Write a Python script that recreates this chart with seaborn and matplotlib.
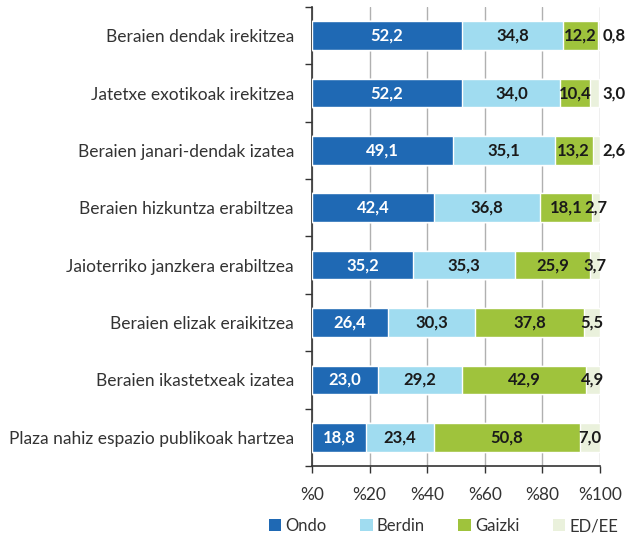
import numpy as np
import pandas as pd
import matplotlib
matplotlib.use("Agg")
import matplotlib.pyplot as plt
import seaborn as sns
from matplotlib.patches import Patch
from matplotlib.ticker import FixedLocator

categories = [
    "Beraien dendak irekitzea",
    "Jatetxe exotikoak irekitzea",
    "Beraien janari-dendak izatea",
    "Beraien hizkuntza erabiltzea",
    "Jaioterriko janzkera erabiltzea",
    "Beraien elizak eraikitzea",
    "Beraien ikastetxeak izatea",
    "Plaza nahiz espazio publikoak hartzea",
]
ondo = [52.2, 52.2, 49.1, 42.4, 35.2, 26.4, 23.0, 18.8]
berdin = [34.8, 34.0, 35.1, 36.8, 35.3, 30.3, 29.2, 23.4]
gaizki = [12.2, 10.4, 13.2, 18.1, 25.9, 37.8, 42.9, 50.8]
ed_ee = [0.8, 3.0, 2.6, 2.7, 3.7, 5.5, 4.9, 7.0]
series_names = ["Ondo", "Berdin", "Gaizki", "ED/EE"]
x_ticks = [0, 20, 40, 60, 80, 100]

colors = ["#1f69b4", "#a0dcf0", "#9fc33c", "#eaf1dc"]
text_colors = ["white", "#1a1a1a", "#1a1a1a", "#1a1a1a"]

sns.set_style("white")
plt.rcParams["font.family"] = ["Lato", "DejaVu Sans"]

df = pd.DataFrame({"cat": categories, "Ondo": ondo, "Berdin": berdin,
                   "Gaizki": gaizki, "ED/EE": ed_ee})
vals = df[series_names].to_numpy()
cum = np.cumsum(vals, axis=1)

fig = plt.figure(figsize=(6.29, 5.38), dpi=100)
ax = fig.add_axes([0.496, 0.134, 0.458, 0.853])

# draw stacked bars: largest cumulative first
for i in range(3, -1, -1):
    sns.barplot(x=cum[:, i], y=categories, orient="h", color=colors[i],
                width=0.5, saturation=1, ax=ax, zorder=3)

# labels
for r in range(len(categories)):
    for i in range(4):
        v = vals[r, i]
        start = cum[r, i] - v
        txt = f"{v:.1f}".replace(".", ",")
        if i == 3 and r < 3:
            ax.text(100.8, r, txt, ha="left", va="center", fontsize=12,
                    fontweight="bold", color=text_colors[i], zorder=5, clip_on=False)
        else:
            ax.text(start + v / 2, r, txt, ha="center", va="center", fontsize=12,
                    fontweight="bold", color=text_colors[i], zorder=5, clip_on=False)

ax.set_xlim(0, 100)
ax.set_ylim(len(categories) - 0.5, -0.5)
ax.set_xticks(x_ticks)
ax.set_xticklabels([f"%{t}" for t in x_ticks])
ax.xaxis.grid(True, color="#b0b0b0", linewidth=1, zorder=0)
ax.yaxis.grid(False)
ax.set_axisbelow(True)
ax.yaxis.set_minor_locator(FixedLocator(np.arange(-0.5, len(categories), 1)))
ax.tick_params(axis="y", which="major", length=0, labelsize=12.5, labelcolor="#333333", pad=13)
ax.tick_params(axis="y", which="minor", length=5, width=1, color="#333333", direction="out", left=True)
ax.tick_params(axis="x", which="major", length=5, width=1, color="#333333", direction="out",
               bottom=True, labelsize=12.5, labelcolor="#333333", pad=10)
ax.set_xlabel("")
ax.set_ylabel("")
for s in ["top", "right"]:
    ax.spines[s].set_visible(False)
for s in ["left", "bottom"]:
    ax.spines[s].set_color("#333333")
    ax.spines[s].set_linewidth(1.2)

handles = [Patch(facecolor=c, edgecolor="none") for c in colors]
fig.legend(handles, series_names, loc="center", bbox_to_anchor=(0.705, 0.022), ncol=4,
           frameon=False, fontsize=12, handlelength=0.75, handleheight=0.75,
           handletextpad=0.25, columnspacing=2.0, labelcolor="#333333")

fig.savefig("out.png", dpi=100)
